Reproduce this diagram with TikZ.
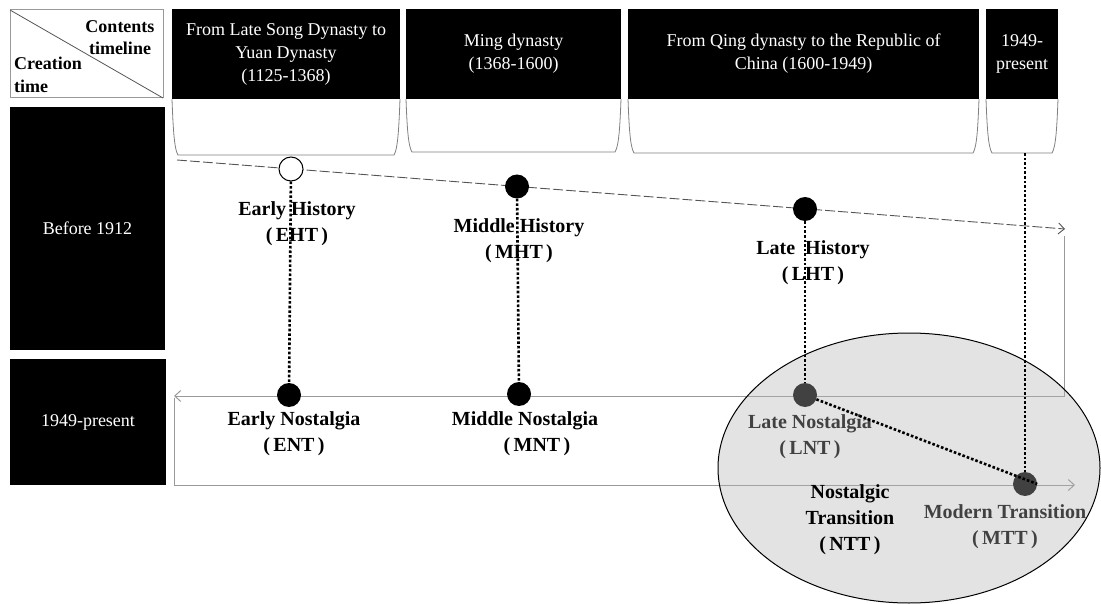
\documentclass[tikz,border=0pt]{standalone}
\usepackage{fontspec}
\setmainfont{Liberation Serif}
\usetikzlibrary{positioning,arrows.meta}
\definecolor{linegray}{HTML}{999999}
\definecolor{dashgray}{HTML}{555555}
\tikzset{
  hdr/.style={fill=black, text=white, minimum height=90pt, inner sep=0pt, align=center, font=\fontsize{18}{23}\selectfont},
  side/.style={fill=black, text=white, inner sep=0pt, font=\fontsize{18}{22}\selectfont},
  dot/.style={circle, fill=black, minimum size=24pt, inner sep=0pt},
  lbl/.style={align=center, font=\bfseries\fontsize{20}{26}\selectfont},
  dotline/.style={line width=2.6pt, dash pattern=on 2.6pt off 2pt},
  flow/.style={linegray, line width=1pt, -{Straight Barb[length=6pt,width=11pt]}},
}

\begin{document}
\begin{tikzpicture}[x=1pt,y=-1pt]
	\useasboundingbox (0,0) rectangle (1101,604);
	% corner box
	\draw[linegray, line width=1pt] (10,10) rectangle (163,98);
	\draw[dashgray, line width=0.8pt] (10,10) -- (163,98);
	\node[align=center, font=\bfseries\fontsize{18}{22}\selectfont] (ctl) at (120,38) {Contents\\timeline};
	\node[align=left, anchor=west, inner sep=0pt, font=\bfseries\fontsize{18}{23}\selectfont] (ctm) at (14,75) {Creation\\time};
	% headers
	\node[hdr, minimum width=228pt] (h1) at (286,54) {From Late Song Dynasty to\\Yuan Dynasty\\(1125-1368)};
	\node[hdr, minimum width=215pt] (h2) at (513.5,54) {Ming dynasty\\(1368-1600)};
	\node[hdr, minimum width=351pt] (h3) at (803.5,54) {From Qing dynasty to the Republic of\\China (1600-1949)};
	\node[hdr, minimum width=72pt] (h4) at (1022,54) {1949-\\present};
	\foreach \a/\b/\c in {172/400/155, 406/621/152, 628/979/153, 986/1058/153}
		\draw[gray, line width=0.8pt] (\a,99) .. controls (\a+1,125) and (\a+2,\c-6) .. (\a+6,\c) -- (\b-6,\c) .. controls (\b-2,\c-6) and (\b-1,125) .. (\b,99);
	% rows
	\node[side, minimum width=155pt, minimum height=243pt] (before) at (87.5,228.5) {Before 1912};
	\node[side, minimum width=156pt, minimum height=126pt] (now) at (88,422) {1949-present};
	% timelines
	\coordinate (hs) at (177,160);
	\coordinate (he) at (1065,229);
	\draw[dashgray, line width=0.9pt, dash pattern=on 10pt off 3pt, -{Straight Barb[length=6pt,width=11pt]}] (hs) -- (he);
	\coordinate (r1) at (1064,236);
	\coordinate (r2) at (174,396);
	\draw[flow] (r1) |- (r2);
	\coordinate (b1) at (174,398);
	\coordinate (b2) at (1075,485);
	\draw[flow] (b1) |- (b2);
	% points
	\node[dot, fill=white, draw=black, line width=1pt] (eht) at (291,169) {};
	\node[dot] (mht) at (517,186.5) {};
	\node[dot] (lht) at (805,209) {};
	\node[dot] (ent) at (289,395) {};
	\node[dot] (mnt) at (519,394) {};
	\node[dot] (lnt) at (805,395) {};
	\node[dot] (mtt) at (1025,484) {};
	\coordinate (p4) at (1025,153);
	% labels
	\node[lbl] (ehtl) at (297,224) {Early History\\(\,EHT\,)};
	\node[lbl] (mhtl) at (519,241) {Middle History\\(\,MHT\,)};
	\node[lbl] (lhtl) at (813,263) {Late\enspace History\\(\,LHT\,)};
	\node[lbl] (entl) at (294,434) {Early Nostalgia\\(\,ENT\,)};
	\node[lbl] (mntl) at (525,434) {Middle Nostalgia\\\hspace*{24pt}(\,MNT\,)};
	\node[lbl] (lntl) at (810,437) {Late Nostalgia\\(\,LNT\,)};
	\node[lbl] (mttl) at (1005,527) {Modern Transition\\(\,MTT\,)};
	% transition area
	\draw[fill=gray!60, fill opacity=0.37, line width=1pt] (909,468) ellipse [x radius=191pt, y radius=135pt];
	\node[lbl] (nttl) at (850,520) {Nostalgic\\Transition\\(\,NTT\,)};
	% links
	\draw[dotline] (eht) -- (ent);
	\draw[dotline] (mht) -- (mnt);
	\draw[dotline] (lht) -- (lnt);
	\draw[dotline] (lnt) -- (mtt.east);
	\draw[dotline] (p4) -- (mtt);
\end{tikzpicture}
\end{document}
